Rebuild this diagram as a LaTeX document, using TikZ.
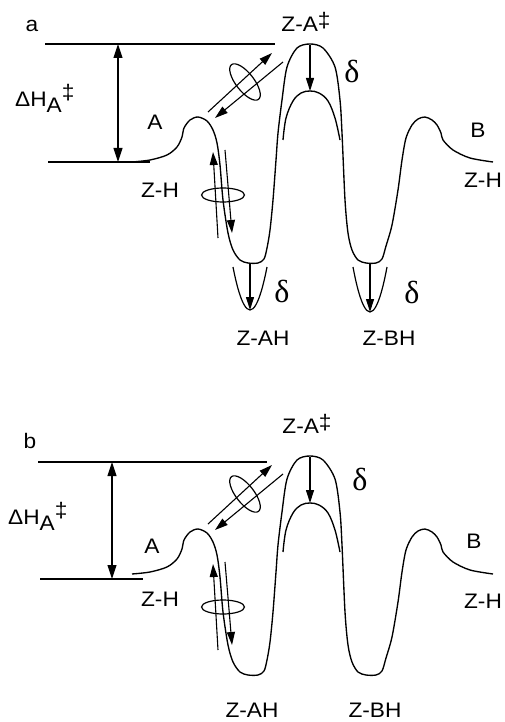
\documentclass[tikz,border=0pt]{standalone}
\usepackage{fontspec}
\setmainfont[FakeStretch=1.08]{Liberation Sans}
\newfontfamily\serifdelta{Liberation Serif}
\usetikzlibrary{arrows.meta}
\tikzset{
  curve/.style={line width=1.35pt},
  arr/.style={line width=1.1pt,-{Triangle[length=13pt,width=8pt]}},
  darr/.style={line width=1.1pt,{Triangle[length=14pt,width=9pt]}-{Triangle[length=14pt,width=9pt]}},
  lvl/.style={line width=1.3pt},
  lab/.style={inner sep=0pt,anchor=base,font=\fontsize{21}{25}\selectfont},
  dl/.style={inner sep=0pt,anchor=base,font=\serifdelta\fontsize{32}{34}\selectfont},
}
\newcommand{\potcurve}{%
  \draw[curve] plot[smooth,tension=0.5] coordinates {
    (132,162) (150,160) (167,155) (177,147) (182,137) (184,128) (190,120)
    (198,117) (207,121) (213,130) (217,143) (220,165) (223,200) (228,233)
    (233,250) (240,260) (248,263) (258,263) (264,259) (267,248) (270,230)
    (273,200) (276,160) (278,133) (282,100) (287,67) (297,48) (310,44)
    (323,48) (335,67) (340,100) (342,133) (345,200) (348,233) (352,250)
    (358,260) (366,263) (376,263) (382,259) (386,246) (392,225) (398,190)
    (402,160) (406,138) (412,125) (418,119) (425,117) (432,120) (437,125)
    (441,133) (443,140) (453,150) (470,158) (493,162)};
  \draw[curve] plot[smooth,tension=0.6] coordinates {
    (283,140) (286,118) (293,101) (301,93) (310,91) (319,93) (328,101)
    (335,118) (340,140)};
}
\newcommand{\panelparts}[1]{%
  \coordinate (pktop#1) at (310,45);
  \coordinate (pkin#1) at (310,91);
  \draw[arr] (pktop#1) -- (pkin#1);
  \coordinate (dgA#1) at (208,112);
  \coordinate (dgB#1) at (272,53);
  \draw[arr] (dgA#1) -- (dgB#1);
  \coordinate (dgC#1) at (283,62);
  \coordinate (dgD#1) at (215,118);
  \draw[arr] (dgC#1) -- (dgD#1);
  \coordinate (elD#1) at (245,82);
  \draw[line width=1.2pt,rotate around={-52:(elD#1)}] (elD#1) ellipse [x radius=22pt,y radius=9pt];
  \coordinate (vuA#1) at (218,238);
  \coordinate (vuB#1) at (213,152);
  \draw[arr] (vuA#1) -- (vuB#1);
  \coordinate (vdA#1) at (225,150);
  \coordinate (vdB#1) at (232,233);
  \draw[arr] (vdA#1) -- (vdB#1);
  \coordinate (elH#1) at (223,195);
  \draw[line width=1.2pt] (elH#1) ellipse [x radius=21.5pt,y radius=7pt];
}
\begin{document}
\begin{tikzpicture}[x=1pt,y=-1pt]
\useasboundingbox (0,0) rectangle (505,722);
% ---------- panel a ----------
\potcurve
\panelparts{a}
\coordinate (topLa) at (45,44);
\coordinate (topRa) at (275,44);
\coordinate (botLa) at (48,162);
\coordinate (botRa) at (150,162);
\draw[lvl] (topLa) -- (topRa);
\draw[lvl] (botLa) -- (botRa);
\coordinate (dhTa) at (118,44);
\coordinate (dhBa) at (118,162);
\draw[darr] (dhTa) -- (dhBa);
% small parabolas
\coordinate (wAa) at (250,263);
\coordinate (pAa) at (250,310);
\draw[line width=1.2pt] (233,267) parabola bend (pAa) (267,267);
\draw[arr] (wAa) -- (pAa);
\coordinate (wBa) at (370,263);
\coordinate (pBa) at (370,312);
\draw[line width=1.2pt] (353,267) parabola bend (pBa) (387,267);
\draw[arr] (wBa) -- (pBa);
% labels a
\node[lab] (la) at (32,32) {a};
\node[lab,anchor=base west] (dHa) at (15,107) {ΔH\raisebox{-6pt}{A}\raisebox{7pt}{‡}};
\node[lab] (ZAa) at (306,32) {Z-A\raisebox{4pt}{‡}};
\node[dl] (d1a) at (352,83) {δ};
\node[dl] (d2a) at (282,302) {δ};
\node[dl] (d3a) at (412,303) {δ};
\node[lab] (Aa) at (155,130) {A};
\node[lab] (Ba) at (478,138) {B};
\node[lab] (ZHla) at (160,197) {Z-H};
\node[lab] (ZHra) at (483,187) {Z-H};
\node[lab] (ZAHa) at (263,345) {Z-AH};
\node[lab] (ZBHa) at (389,345) {Z-BH};
% ---------- panel b ----------
\begin{scope}[yshift=-412pt]
\potcurve
\panelparts{b}
\end{scope}
\coordinate (topLb) at (38,462);
\coordinate (topRb) at (267,462);
\coordinate (botLb) at (40,579);
\coordinate (botRb) at (143,579);
\draw[lvl] (topLb) -- (topRb);
\draw[lvl] (botLb) -- (botRb);
\coordinate (dhTb) at (112,462);
\coordinate (dhBb) at (112,579);
\draw[darr] (dhTb) -- (dhBb);
\node[lab] (lb) at (30,448) {b};
\node[lab,anchor=base west] (dHb) at (8,524) {ΔH\raisebox{-6pt}{A}\raisebox{7pt}{‡}};
\node[lab] (ZAb) at (307,433) {Z-A\raisebox{4pt}{‡}};
\node[dl] (d1b) at (360,490) {δ};
\node[lab] (Ab) at (152,553) {A};
\node[lab] (Bb) at (474,548) {B};
\node[lab] (ZHlb) at (160,606) {Z-H};
\node[lab] (ZHrb) at (483,608) {Z-H};
\node[lab] (ZAHb) at (252,717) {Z-AH};
\node[lab] (ZBHb) at (375,717) {Z-BH};
\end{tikzpicture}
\end{document}
